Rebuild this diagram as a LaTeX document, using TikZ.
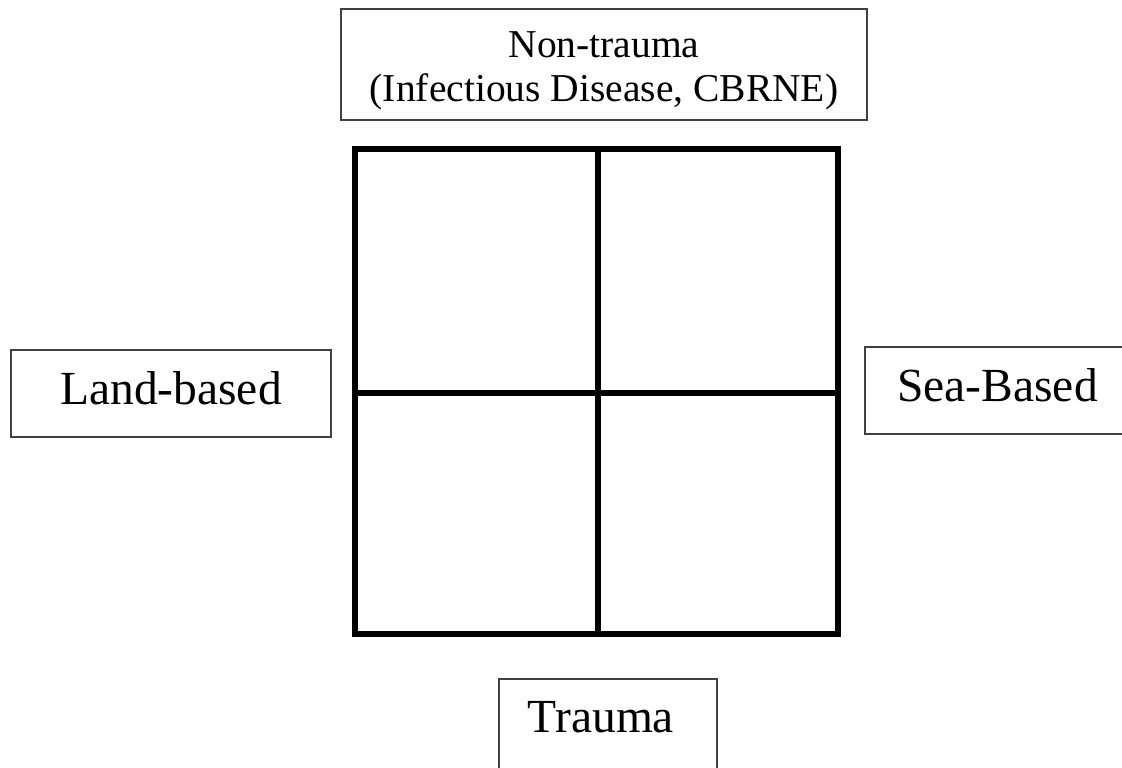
\documentclass[tikz,border=0pt]{standalone}
\usepackage{fontspec}
\setmainfont{Liberation Serif}
\usepackage{xcolor}
\definecolor{boxline}{RGB}{64,64,64}
\usepackage{tikz}
\usetikzlibrary{positioning}

\begin{document}
\begin{tikzpicture}[x=1pt, y=-1pt]
  \useasboundingbox (0,0) rectangle (1122,768);

  % Grid
  \draw[line width=6.5pt, line cap=rect] (355,149) rectangle (838,634);
  \draw[line width=6.5pt] (598,149) -- (598,634);
  \draw[line width=6.5pt] (355,393) -- (838,393);

  % Top label
  \draw[draw=boxline, line width=1.2pt] (341,9) rectangle (867,120);
  \node[font=\fontsize{39.5}{44}\selectfont, anchor=base] (nontrauma) at (604,58) {Non-trauma};
  \node[font=\fontsize{39.5}{44}\selectfont, anchor=base] (nontraumasub) at (604,102)
       {(Infectious Disease, CBRNE)};

  % Left label
  \draw[draw=boxline, line width=1.2pt] (11,350) rectangle (331,437);
  \node[font=\fontsize{47.5}{52}\selectfont, anchor=base] (land) at (171,404) {Land-based};

  % Right label
  \draw[draw=boxline, line width=1.2pt] (865,347) rectangle (1135,434);
  \node[font=\fontsize{47.5}{52}\selectfont, anchor=base] (sea) at (997.5,401.5) {Sea-Based};

  % Bottom label
  \draw[draw=boxline, line width=1.2pt] (499,779) -- (499,679) -- (717,679) -- (717,779);
  \node[font=\fontsize{47.5}{52}\selectfont, anchor=base] (trauma) at (601,732) {Trauma};
\end{tikzpicture}
\end{document}
